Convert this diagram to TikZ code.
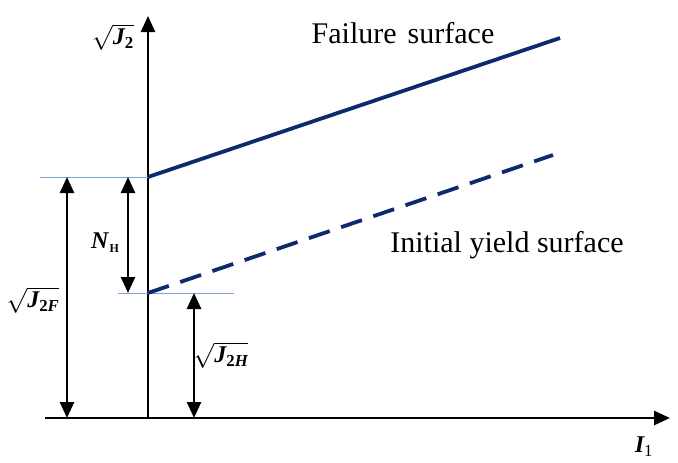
\documentclass[tikz,border=0pt]{standalone}
\usepackage{amsmath}
\usepackage{fontspec}
\setmainfont{Liberation Serif}
\usetikzlibrary{arrows.meta}
\definecolor{navy}{HTML}{0E2A6E}
\definecolor{lightb}{HTML}{7F9FD9}
\newcommand{\bi}[1]{\text{\bfseries\itshape #1}}
\newcommand{\bu}[1]{\text{\bfseries #1}}
\begin{document}
\begin{tikzpicture}[x=1pt,y=-1pt,
  axis/.style={line width=2.6pt,-{Triangle[width=14pt,length=16pt]}},
  dim/.style={line width=2.6pt,{Triangle[width=14pt,length=16pt]}-{Triangle[width=14pt,length=16pt]}},
  guide/.style={lightb,line width=1pt},
  surf/.style={navy,line width=3.8pt},
  lbl/.style={inner sep=0pt,font=\fontsize{30}{36}\selectfont},
  mlbl/.style={inner sep=0pt,font=\fontsize{24}{28}\selectfont}]
\useasboundingbox (0,0) rectangle (678,463);
% coordinates
\coordinate (o) at (148,418);
\coordinate (ytop) at (148,16);
\coordinate (xl) at (45,418);
\coordinate (xr) at (670,418);
\coordinate (f0) at (148,177);
\coordinate (f1) at (560,38);
\coordinate (d0) at (148,293);
\coordinate (d1) at (553,155);
\coordinate (g1a) at (40,177);
\coordinate (g2b) at (234,293);
\coordinate (g2a) at (118,293);
\coordinate (aF0) at (67,177);
\coordinate (aF1) at (67,418);
\coordinate (aN0) at (128,177);
\coordinate (aN1) at (128,293);
\coordinate (aH0) at (194,293);
\coordinate (aH1) at (194,418);
% axes
\draw[line width=2.6pt] (xl) -- (o);
\draw[axis] (o) -- (xr);
\draw[axis] (o) -- (ytop);
% guides
\draw[guide] (g1a) -- (f0);
\draw[guide] (g2a) -- (g2b);
% surfaces
\draw[surf] (f0) -- (f1);
\draw[surf,dash pattern=on 22pt off 12pt] (d0) -- (d1);
% dimension arrows
\draw[dim] (aF0) -- (aF1);
\draw[dim] (aN0) -- (aN1);
\draw[dim] (aH0) -- (aH1);
% labels
\node[lbl] (fs) at (403,33) {Failure\hspace{0.12em} surface};
\node[lbl] (iy) at (507,245) {Initial yield surface};
\node[mlbl] (j2) at (113,37) {$\sqrt{\bi{J}_{\bu{2}}}$};
\node[mlbl] (j2f) at (33,300) {$\sqrt{\bi{J}_{\bu{2}\bi{F}}}$};
\node[mlbl] (j2h) at (221,355) {$\sqrt{\bi{J}_{\bu{2}\bi{H}}}$};
\node[mlbl] (nh) at (105,243) {\bfseries\itshape N\kern1pt\raisebox{-4pt}{\upshape\fontsize{12}{13}\selectfont H}};
\node[mlbl] (i1) at (644,447) {$\bi{I}_{\mathrm{1}}$};
\end{tikzpicture}
\end{document}
